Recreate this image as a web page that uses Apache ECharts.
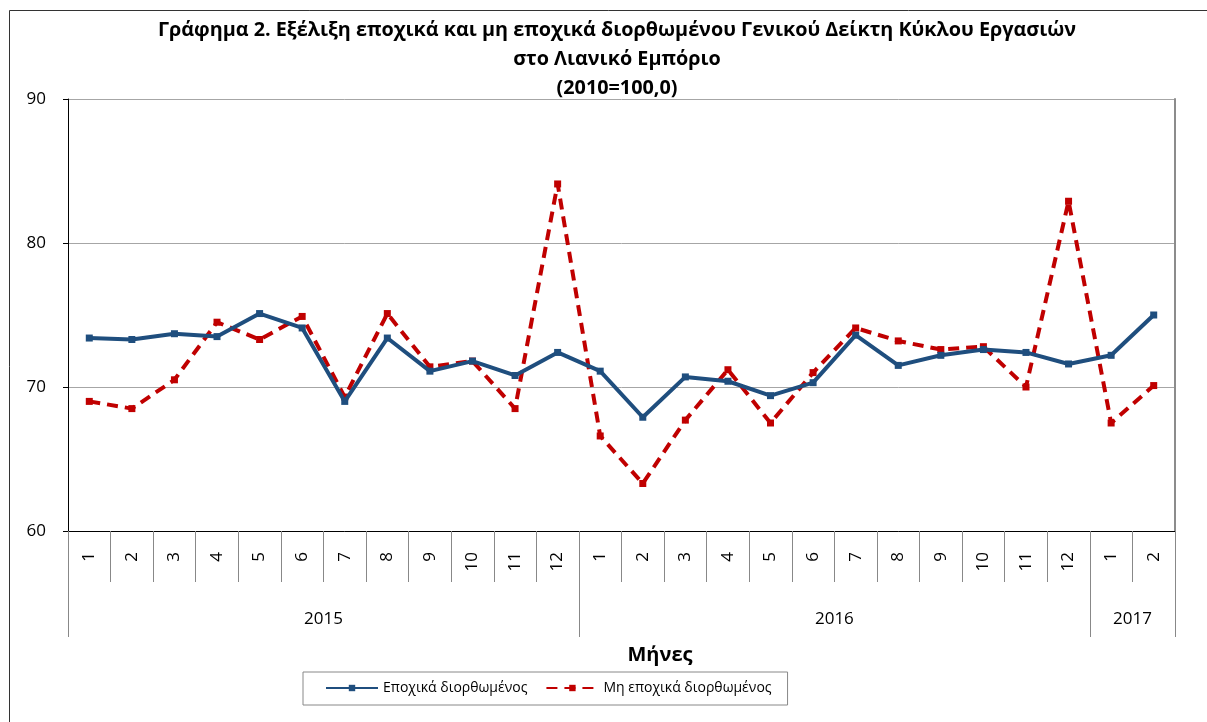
<!DOCTYPE html>
<html>
<head>
<meta charset="utf-8">
<script src="https://cdn.jsdelivr.net/npm/echarts@6/dist/echarts.min.js"></script>
<style>html,body{margin:0;padding:0;background:#fff}#c{width:1207px;height:722px}</style>
</head>
<body>
<div id="c"></div>
<script>
const months = ['1','2','3','4','5','6','7','8','9','10','11','12','1','2','3','4','5','6','7','8','9','10','11','12','1','2'];
const years = ['2015','2016','2017'];
const yearStarts = [0, 12, 24, 26];
const yearCenters = [6, 18, 25];
const seasonal = [73.4,73.3,73.7,73.5,75.1,74.1,69.0,73.4,71.1,71.8,70.8,72.4,71.1,67.9,70.7,70.4,69.4,70.3,73.6,71.5,72.2,72.6,72.4,71.6,72.2,75.0];
const nonSeasonal = [69.0,68.5,70.5,74.5,73.3,74.9,69.3,75.1,71.4,71.8,68.5,84.1,66.6,63.3,67.7,71.2,67.5,71.0,74.1,73.2,72.6,72.8,70.0,82.9,67.5,70.1];
const seriesNames = ['Εποχικά διορθωμένος','Μη εποχικά διορθωμένος'];
const titleLines = ['Γράφημα 2. Εξέλιξη εποχικά και μη εποχικά διορθωμένου Γενικού Δείκτη Κύκλου Εργασιών','στο Λιανικό Εμπόριο','(2010=100,0)'];
const xName = 'Μήνες';

const FONT = '"Open Sans", "Noto Sans", sans-serif';
const chart = echarts.init(document.getElementById('c'));
chart.setOption({
  animation: false,
  backgroundColor: '#fff',
  textStyle: {fontFamily: FONT},
  title: {
    text: titleLines.join('\n'),
    left: 612, top: 11, textAlign: 'center',
    textStyle: {fontSize: 19.8, fontWeight: 'bold', color: '#000', lineHeight: 29, fontFamily: FONT}
  },
  graphic: [
    {type: 'rect', shape: {x: 9.5, y: 10.5, width: 1220, height: 730}, style: {fill: 'none', stroke: '#333', lineWidth: 1}, silent: true, z: -1},
    {type: 'text', x: 660, y: 655, style: {text: xName, x: 0, y: 0, textAlign: 'center', textVerticalAlign: 'middle', font: 'bold 20px ' + FONT, fill: '#000'}}
  ],
  legend: {
    left: 303, top: 672,
    data: seriesNames,
    borderColor: '#888', borderWidth: 1,
    padding: [9, 16, 10, 22],
    itemWidth: 52, itemHeight: 8, itemGap: 18,
    textStyle: {fontSize: 14, color: '#000', fontFamily: FONT}
  },
  grid: {left: 68, right: 32, top: 99, bottom: 191, containLabel: false},
  xAxis: [
    {
      type: 'category', data: months, boundaryGap: true, position: 'bottom',
      axisLine: {show: true, lineStyle: {color: '#000', width: 1}},
      axisTick: {show: true, interval: 0, length: 51, lineStyle: {color: '#888'}},
      axisLabel: {interval: 0, rotate: 90, margin: 21, fontSize: 17, color: '#000', fontFamily: FONT},
      splitLine: {show: false}
    },
    {
      type: 'value', min: 0, max: 26, position: 'bottom',
      axisLine: {show: false},
      axisTick: {show: true, customValues: yearStarts, length: 106, lineStyle: {color: '#888'}},
      axisLabel: {customValues: yearCenters, margin: 80, fontSize: 17, color: '#000', fontFamily: FONT,
        formatter: function (v) { return years[yearCenters.indexOf(v)] || ''; }},
      splitLine: {show: false}
    }
  ],
  yAxis: [
    {
      type: 'value', min: 60, max: 90, interval: 10,
      axisLine: {show: true, lineStyle: {color: '#000', width: 1}},
      axisTick: {show: true, length: 5, lineStyle: {color: '#000'}},
      axisLabel: {fontSize: 17, color: '#000', margin: 22, fontFamily: FONT},
      splitLine: {show: true, lineStyle: {color: '#a6a6a6', width: 1}}
    },
    {
      type: 'value', min: 60, max: 90, interval: 10, position: 'right',
      axisLine: {show: true, lineStyle: {color: '#8c8c8c', width: 2}},
      axisTick: {show: false}, axisLabel: {show: false}, splitLine: {show: false}
    }
  ],
  series: [
    {
      name: seriesNames[0], type: 'line', data: seasonal, xAxisIndex: 0, yAxisIndex: 0,
      symbol: 'rect', symbolSize: 7, showAllSymbol: true,
      lineStyle: {color: '#1f4e7e', width: 4},
      itemStyle: {color: '#1f4e7e'}, z: 3
    },
    {
      name: seriesNames[1], type: 'line', data: nonSeasonal, xAxisIndex: 0, yAxisIndex: 0,
      symbol: 'rect', symbolSize: 7, showAllSymbol: true,
      lineStyle: {color: '#c00000', width: 4, type: [11, 7]},
      itemStyle: {color: '#c00000'}, z: 2
    }
  ]
});
</script>
</body>
</html>
